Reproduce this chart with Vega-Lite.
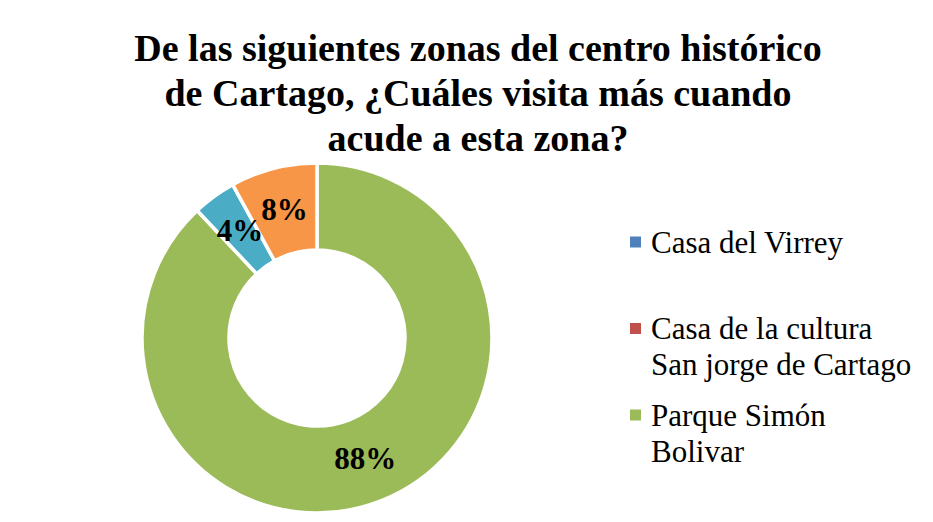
{
  "$schema": "https://vega.github.io/schema/vega-lite/v6.json",
  "width": 350,
  "height": 350,
  "autosize": "none",
  "padding": {"left": 142, "top": 163, "right": 441, "bottom": 9},
  "background": "white",
  "config": {
    "view": {"stroke": null},
    "font": "Liberation Serif",
    "style": {"guide-label": {"lineHeight": 36}}
  },
  "title": {
    "text": ["De las siguientes zonas del centro histórico", "de Cartago, ¿Cuáles visita más cuando", "acude a esta zona?"],
    "font": "Liberation Serif",
    "fontSize": 38,
    "fontWeight": "bold",
    "color": "black",
    "anchor": "middle",
    "frame": "group",
    "dx": 161,
    "offset": -3,
    "lineHeight": 45
  },
  "data": {
    "values": [
      {"zona": "Casa del Virrey", "porcentaje": 0, "orden": 1},
      {"zona": "Casa de la cultura San jorge de Cartago", "porcentaje": 0, "orden": 2},
      {"zona": "Parque Simón Bolivar", "porcentaje": 0.88, "orden": 3},
      {"zona": "Categoría 4", "porcentaje": 0, "orden": 4},
      {"zona": "Categoría 5", "porcentaje": 0.04, "orden": 5},
      {"zona": "Categoría 6", "porcentaje": 0.08, "orden": 6}
    ]
  },
  "encoding": {
    "theta": {"field": "porcentaje", "type": "quantitative", "stack": true},
    "order": {"field": "orden", "type": "quantitative"}
  },
  "layer": [
    {
      "mark": {"type": "arc", "innerRadius": 88, "outerRadius": 175, "stroke": "white", "strokeWidth": 3.5},
      "encoding": {
        "color": {
          "field": "zona",
          "type": "nominal",
          "scale": {
            "domain": ["Casa del Virrey", "Casa de la cultura San jorge de Cartago", "Parque Simón Bolivar", "Categoría 4", "Categoría 5", "Categoría 6"],
            "range": ["#4F81BD", "#C0504D", "#9BBB59", "#8064A2", "#4BACC6", "#F79646"]
          },
          "legend": {
            "values": ["Casa del Virrey", "Casa de la cultura San jorge de Cartago", "Parque Simón Bolivar"],
            "title": null,
            "orient": "none",
            "legendX": 478,
            "legendY": 74,
            "symbolType": "M-1,-2.909H1V-0.909H-1Z",
            "symbolSize": 121,
            "symbolStrokeWidth": 0,
            "labelFont": "Liberation Serif",
            "labelFontSize": 31,
            "labelColor": "black",
            "labelLimit": 400,
            "labelOffset": 0,
            "labelBaseline": "alphabetic",
            "rowPadding": 18.5,
            "gridAlign": "all",
            "labelExpr": "datum.label == 'Casa de la cultura San jorge de Cartago' ? ['Casa de la cultura', 'San jorge de Cartago'] : datum.label == 'Parque Simón Bolivar' ? ['Parque Simón', 'Bolivar'] : datum.label"
          }
        }
      }
    },
    {
      "transform": [{"filter": "datum.porcentaje > 0"}],
      "mark": {"type": "text", "radius": 131, "font": "Liberation Serif", "fontSize": 31, "fontWeight": "bold", "fill": "black"},
      "encoding": {
        "detail": {"field": "zona", "type": "nominal"},
        "text": {"field": "porcentaje", "type": "quantitative", "format": ".0%"}
      }
    }
  ]
}
